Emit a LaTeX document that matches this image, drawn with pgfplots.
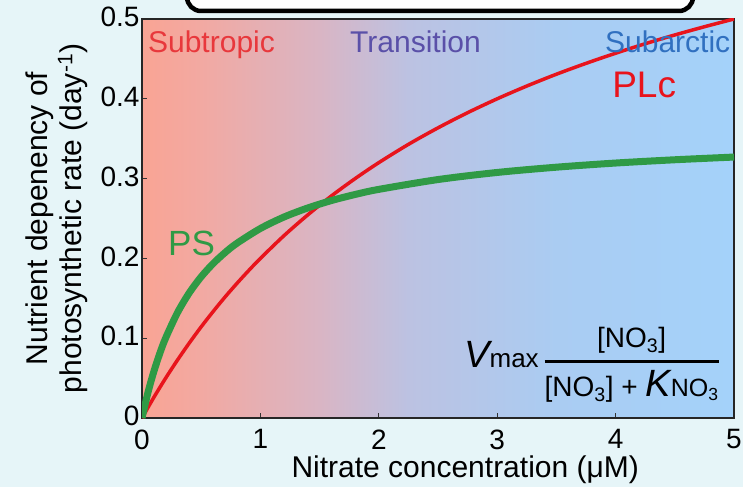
\documentclass[border=0pt]{standalone}
\usepackage{pgfplots}
\pgfplotsset{compat=1.18}
\usepackage{amsmath}
\usepackage{fontspec}
\setmainfont{Liberation Sans}
\definecolor{bgc}{HTML}{E6F5F8}
\definecolor{c0}{HTML}{F9A494}
\definecolor{c1}{HTML}{F2A9A2}
\definecolor{c2}{HTML}{D9B5C4}
\definecolor{c3}{HTML}{BCC2E2}
\definecolor{c4}{HTML}{AACCF2}
\definecolor{c5}{HTML}{A4D2FA}
\definecolor{psgreen}{HTML}{2F9A45}
\definecolor{plred}{HTML}{E8141C}
\definecolor{subtrop}{HTML}{E8383C}
\definecolor{trans}{HTML}{5A50A8}
\definecolor{subarc}{HTML}{3070C0}
\pgfdeclarehorizontalshading{regions}{100bp}{color(0bp)=(c0); color(25bp)=(c0); color(30bp)=(c1); color(40bp)=(c2); color(47.5bp)=(c3); color(60bp)=(c4); color(75bp)=(c5); color(100bp)=(c5)}
\begin{document}
\begin{tikzpicture}[x=1pt,y=1pt]
\path[use as bounding box] (0,0) rectangle (743,487);
\fill[bgc] (0,0) rectangle (743,487);
\clip (0,0) rectangle (743,487);
\draw[line width=4.5pt, rounded corners=14pt, fill=white] (187,476) rectangle (693,530);
\begin{axis}[
  at={(142pt,69pt)}, anchor=south west,
  scale only axis, width=592pt, height=399pt,
  xmin=0, xmax=5, ymin=0, ymax=0.5,
  xtick={0,1,2,3,4,5},
  ytick={0,0.1,0.2,0.3,0.4,0.5},
  yticklabels={0,0.1,0.2,0.3,0.4,0.5},
  xtick pos=bottom, ytick pos=left,
  tick align=inside, major tick length=5pt,
  tick style={black!80, line width=0.8pt},
  axis line style={black!85, line width=1.6pt},
  axis background/.style={shading=regions},
  /pgf/number format/assume math mode=true,
  ticklabel style={font=\fontsize{28}{28}\selectfont},
  yticklabel style={xshift=1pt, yshift=2pt},
  xticklabel style={yshift=-8pt},
  xlabel={Nitrate concentration (μM)},
  xlabel style={font=\fontsize{30}{30}\selectfont, at={(axis description cs:0.546,-0.150)}, anchor=base},
  ylabel={Nutrient depenency of\\photosynthetic rate (day\textsuperscript{-1})},
  ylabel style={font=\fontsize{30}{34}\selectfont, align=center, at={(axis description cs:-0.144,0.5)}, anchor=center},
]
\addplot[plred, line width=3.5pt, smooth] coordinates {
(0,0) (0.1,0.0258) (0.2,0.0500) (0.3,0.0727) (0.4,0.0941) (0.5,0.1143) (0.6,0.1333)
(0.7,0.1514) (0.8,0.1684) (0.9,0.1846) (1.0,0.2000) (1.2,0.2286) (1.4,0.2545)
(1.6,0.2783) (1.8,0.3000) (2.0,0.3200) (2.25,0.3429) (2.5,0.3636) (2.75,0.3826)
(3.0,0.4000) (3.25,0.4160) (3.5,0.4308) (3.75,0.4444) (4.0,0.4571) (4.25,0.4690)
(4.5,0.4800) (4.75,0.4903) (5.0,0.5000)};
\addplot[psgreen, line width=7pt, smooth] coordinates {
(0,0) (0.05,0.0317) (0.1,0.0582) (0.15,0.0808) (0.2,0.1003) (0.3,0.1321) (0.4,0.1570)
(0.5,0.1770) (0.6,0.1934) (0.7,0.2071) (0.8,0.2188) (1.0,0.2375) (1.2,0.2519)
(1.4,0.2632) (1.6,0.2725) (1.8,0.2801) (2.0,0.2865) (2.5,0.2988) (3.0,0.3077)
(3.5,0.3143) (4.0,0.3195) (4.5,0.3236) (5.0,0.3270)};
\node[anchor=base west, inner sep=0, text=subtrop, font=\fontsize{30}{30}\selectfont] at (axis cs:0.05,0.4586) {Subtropic};
\node[anchor=base west, inner sep=0, text=trans, font=\fontsize{30}{30}\selectfont] at (axis cs:1.757,0.4586) {Transition};
\node[anchor=base west, inner sep=0, text=subarc, font=\fontsize{30}{30}\selectfont] at (axis cs:3.91,0.4586) {Subarctic};
\node[anchor=base west, inner sep=0, text=plred, font=\fontsize{37}{37}\selectfont] at (axis cs:3.97,0.402) {PLc};
\node[anchor=base west, inner sep=0, text=psgreen, font=\fontsize{35}{35}\selectfont] at (axis cs:0.22,0.204) {PS};
\node[anchor=base west, inner sep=0, font=\fontsize{28}{28}\selectfont] at (axis cs:2.72,0.0627)
 {{\fontsize{38}{38}\selectfont\itshape V}{\fontsize{26}{26}\selectfont max}\,$\genfrac{}{}{2.5pt}{0}{\text{[NO\textsubscript{3}]}}{\text{[NO\textsubscript{3}] + {\fontsize{38}{38}\selectfont\itshape K}{\fontsize{25}{25}\selectfont NO\textsubscript{3}}}}$};
\end{axis}
\end{tikzpicture}
\end{document}
